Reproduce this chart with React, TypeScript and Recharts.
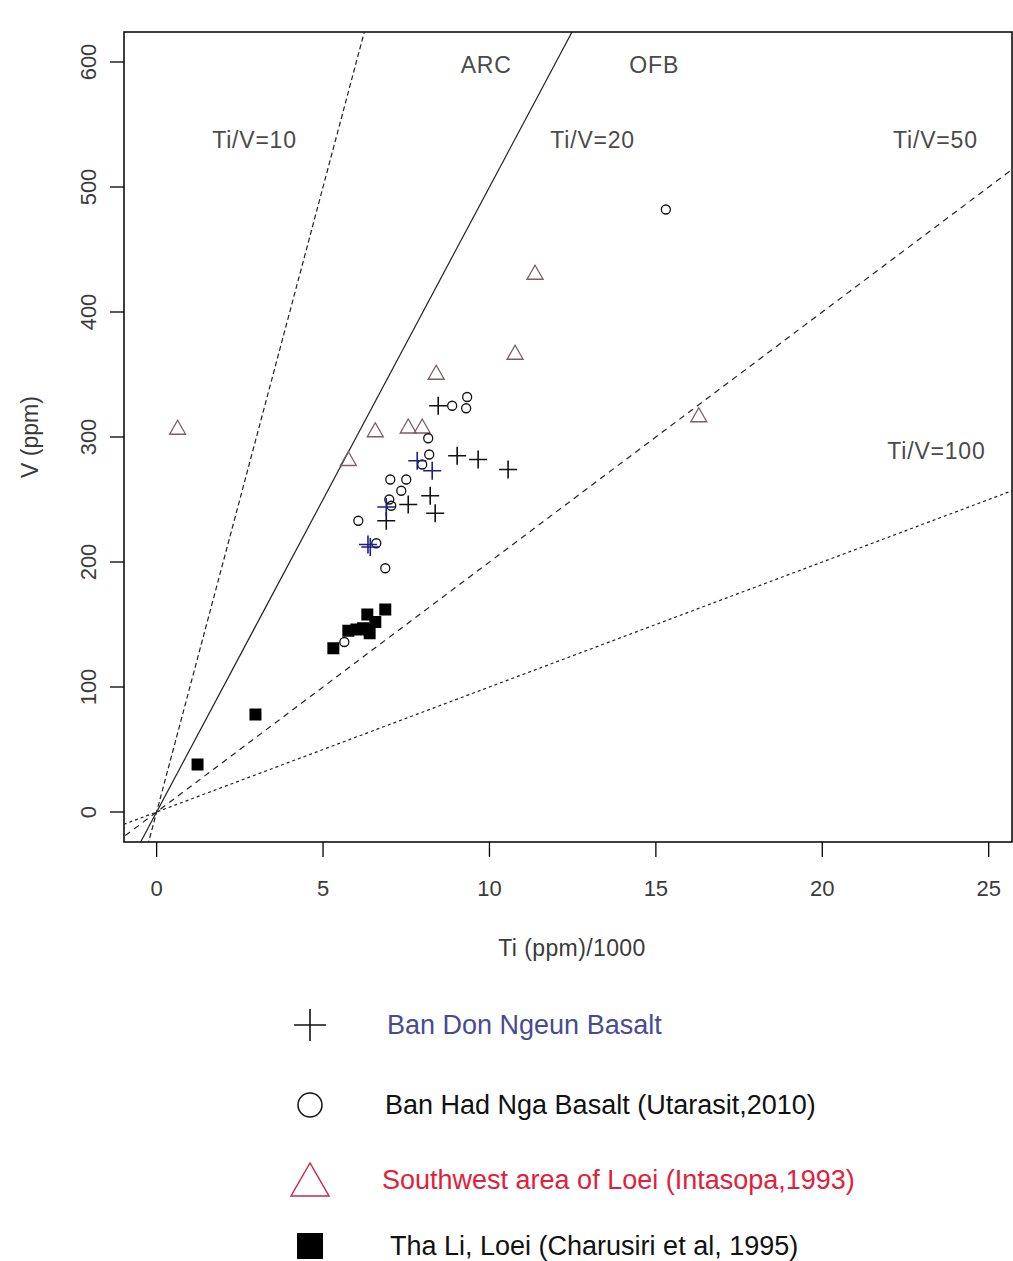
import React from 'react';
import { ScatterChart, Scatter, XAxis, YAxis, ReferenceLine, ReferenceDot, ReferenceArea, Label } from 'recharts';

// Ejes
const xDomain = [-0.98, 25.7];
const yDomain = [-24, 624];
const xTicks = [0, 5, 10, 15, 20, 25];
const yTicks = [0, 100, 200, 300, 400, 500, 600];

// Líneas Ti/V
const tiVRatios = [10, 20, 50, 100];
const lineDash = ['5 3', '', '6 5', '3 3'];
const lineSpan = [-2, 27];

// Textos dentro del gráfico
const annotations = [
  { text: 'ARC', ti: 9.9, v: 598 },
  { text: 'OFB', ti: 14.95, v: 598 },
  { text: 'Ti/V=10', ti: 2.94, v: 538 },
  { text: 'Ti/V=20', ti: 13.1, v: 538 },
  { text: 'Ti/V=50', ti: 23.4, v: 538 },
  { text: 'Ti/V=100', ti: 23.43, v: 289 },
];

// Ban Don Ngeun Basalt
const donNgeunBlack = [
  { ti: 8.46, v: 325 }, { ti: 9.03, v: 285 }, { ti: 9.66, v: 282 }, { ti: 10.56, v: 274 },
  { ti: 8.22, v: 253 }, { ti: 8.37, v: 239 }, { ti: 7.56, v: 246 }, { ti: 6.9, v: 233 },
];
const donNgeunBlue = [
  { ti: 7.83, v: 281 }, { ti: 8.28, v: 273 }, { ti: 6.9, v: 244 },
  { ti: 6.35, v: 214 }, { ti: 6.42, v: 212 },
];

// Ban Had Nga Basalt (Utarasit, 2010)
const hadNga = [
  { ti: 8.88, v: 325 }, { ti: 9.33, v: 332 }, { ti: 9.3, v: 323 }, { ti: 8.16, v: 299 },
  { ti: 8.19, v: 286 }, { ti: 7.98, v: 278 }, { ti: 7.02, v: 266 }, { ti: 7.5, v: 266 },
  { ti: 7.35, v: 257 }, { ti: 6.99, v: 250 }, { ti: 7.05, v: 245 }, { ti: 6.06, v: 233 },
  { ti: 6.6, v: 215 }, { ti: 6.87, v: 195 }, { ti: 15.3, v: 482 }, { ti: 5.64, v: 136 },
];

// Southwest area of Loei (Intasopa, 1993)
const southwestLoei = [
  { ti: 0.63, v: 307 }, { ti: 5.76, v: 282 }, { ti: 6.57, v: 305 }, { ti: 7.56, v: 308 },
  { ti: 7.98, v: 308 }, { ti: 8.4, v: 351 }, { ti: 10.77, v: 367 }, { ti: 11.37, v: 431 },
  { ti: 16.29, v: 317 },
];

// Tha Li, Loei (Charusiri et al, 1995)
const thaLi = [
  { ti: 1.23, v: 38 }, { ti: 2.97, v: 78 }, { ti: 5.31, v: 131 }, { ti: 5.76, v: 145 },
  { ti: 6.0, v: 146 }, { ti: 6.2, v: 147 }, { ti: 6.33, v: 158 }, { ti: 6.36, v: 146 },
  { ti: 6.4, v: 143 }, { ti: 6.57, v: 152 }, { ti: 6.87, v: 162 },
];

const legendItems = [
  { label: 'Ban Don Ngeun Basalt', color: '#4a4a92', symbol: 'plus' },
  { label: 'Ban Had Nga Basalt (Utarasit,2010)', color: '#111', symbol: 'circle' },
  { label: 'Southwest area of Loei (Intasopa,1993)', color: '#e2203a', symbol: 'triangle' },
  { label: 'Tha Li, Loei (Charusiri et al, 1995)', color: '#111', symbol: 'square' },
];

const font = "'Liberation Sans', Arial, sans-serif";
const textGray = '#3a3a3a';

const plusShape = (color: string) => (p: any) => (
  <path d={`M${p.cx - 9},${p.cy}H${p.cx + 9}M${p.cx},${p.cy - 9}V${p.cy + 9}`} stroke={color} strokeWidth={1.6} fill="none" />
);
const circleShape = (p: any) => <circle cx={p.cx} cy={p.cy} r={4.5} stroke="#111" strokeWidth={1.3} fill="none" />;
const triangleShape = (p: any) => (
  <path d={`M${p.cx},${p.cy - 8}L${p.cx - 8},${p.cy + 6}L${p.cx + 8},${p.cy + 6}Z`} stroke="#7d5c62" strokeWidth={1.3} fill="none" />
);
const squareShape = (p: any) => <rect x={p.cx - 6} y={p.cy - 6} width={12} height={12} fill="#000" />;

const YTick = ({ x, y, payload }: any) => (
  <text x={x - 20} y={y} transform={`rotate(-90 ${x - 20} ${y})`} textAnchor="middle" dominantBaseline="central"
    fontFamily={font} fontSize={22} fill={textGray}>{payload.value}</text>
);
const XTick = ({ x, y, payload }: any) => (
  <text x={x} y={y + 29} textAnchor="middle" dominantBaseline="central"
    fontFamily={font} fontSize={22} fill={textGray}>{payload.value}</text>
);

function LegendSymbol({ symbol }: { symbol: string }) {
  return (
    <svg width={50} height={50} style={{ display: 'block' }}>
      {symbol === 'plus' && <path d="M9,25H41M25,9V41" stroke="#111" strokeWidth={1.6} fill="none" />}
      {symbol === 'circle' && <circle cx={25} cy={25} r={12} stroke="#111" strokeWidth={1.5} fill="none" />}
      {symbol === 'triangle' && <path d="M25,8L6,41H44Z" stroke="#c0304a" strokeWidth={1.5} fill="none" />}
      {symbol === 'square' && <rect x={12} y={12} width={26} height={26} fill="#000" />}
    </svg>
  );
}

export default function App() {
  return (
    <div style={{ position: 'absolute', left: 0, top: 0, width: 1013, height: 1261, background: '#fff' }}>
      <ScatterChart width={1013} height={980} margin={{ top: 32, right: 1, left: 0, bottom: 0 }}>
        <XAxis dataKey="ti" type="number" domain={xDomain} ticks={xTicks} allowDataOverflow
          axisLine={false} tickSize={15} tickLine={{ stroke: '#000', strokeWidth: 1.3 }} tick={<XTick />} height={138}>
          <Label content={({ viewBox }: any) => (
            <text x={viewBox.x + viewBox.width / 2 + 4} y={viewBox.y + 106} textAnchor="middle" dominantBaseline="central"
              fontFamily={font} fontSize={23} letterSpacing={0.4} fill={textGray}>Ti (ppm)/1000</text>
          )} />
        </XAxis>
        <YAxis dataKey="v" type="number" domain={yDomain} ticks={yTicks} allowDataOverflow
          axisLine={false} tickSize={14} tickLine={{ stroke: '#000', strokeWidth: 1.3 }} tick={<YTick />} width={124}>
          <Label content={({ viewBox }: any) => {
            const cx = viewBox.x + 30;
            const cy = viewBox.y + viewBox.height / 2;
            return (
              <text x={cx} y={cy} transform={`rotate(-90 ${cx} ${cy})`} textAnchor="middle" dominantBaseline="central"
                fontFamily={font} fontSize={23} fill={textGray}>V (ppm)</text>
            );
          }} />
        </YAxis>
        <ReferenceArea x1={xDomain[0]} x2={xDomain[1]} y1={yDomain[0]} y2={yDomain[1]}
          fill="none" fillOpacity={0} stroke="#000" strokeWidth={1.5} ifOverflow="visible" />
        {tiVRatios.map((r, i) => (
          <ReferenceLine key={r} ifOverflow="hidden" stroke="#222" strokeWidth={1.2}
            strokeDasharray={lineDash[i] || undefined}
            segment={[{ x: lineSpan[0], y: (lineSpan[0] * 1000) / r }, { x: lineSpan[1], y: (lineSpan[1] * 1000) / r }]} />
        ))}
        {annotations.map((a) => (
          <ReferenceDot key={a.text} x={a.ti} y={a.v} r={1} fill="none" stroke="none"
            label={{ value: a.text, position: 'center', fill: '#4a4a4a', fontSize: 23, fontFamily: font, letterSpacing: 0.8 }} />
        ))}
        <Scatter data={southwestLoei} shape={triangleShape} isAnimationActive={false} />
        <Scatter data={hadNga} shape={circleShape} isAnimationActive={false} />
        <Scatter data={donNgeunBlack} shape={plusShape('#111')} isAnimationActive={false} />
        <Scatter data={donNgeunBlue} shape={plusShape('#1e1e8a')} isAnimationActive={false} />
        <Scatter data={thaLi} shape={squareShape} isAnimationActive={false} />
      </ScatterChart>
      {legendItems.map((item, i) => (
        <div key={item.label} style={{ position: 'absolute', left: 285, top: [1000, 1080, 1155, 1221][i], height: 50,
          display: 'flex', alignItems: 'center' }}>
          <LegendSymbol symbol={item.symbol} />
          <span style={{ marginLeft: [52, 50, 47, 55][i], fontFamily: font, fontSize: 27, color: item.color }}>{item.label}</span>
        </div>
      ))}
    </div>
  );
}
